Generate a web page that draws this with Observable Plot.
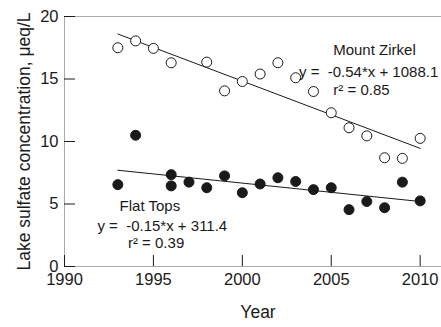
<!DOCTYPE html>
<html>
<head>
<meta charset="utf-8">
<script src="https://cdn.jsdelivr.net/npm/d3@7"></script>
<script src="https://cdn.jsdelivr.net/npm/@observablehq/plot@0.6"></script>
<style>
  html, body { margin: 0; padding: 0; background: #fff; }
  svg { display: block; }
</style>
</head>
<body>
<div id="chart"></div>
<script>
const zirkelYears  = [1993, 1994, 1995, 1996, 1998, 1999, 2000, 2001, 2002, 2003, 2004, 2005, 2006, 2007, 2008, 2009, 2010];
const zirkelValues = [17.5, 18.05, 17.45, 16.3, 16.35, 14.05, 14.8, 15.4, 16.3, 15.1, 14.0, 12.3, 11.1, 10.45, 8.7, 8.65, 10.25];
const flatYears  = [1993, 1994, 1996, 1996, 1997, 1998, 1999, 2000, 2001, 2002, 2003, 2004, 2005, 2006, 2007, 2008, 2009, 2010];
const flatValues = [6.55, 10.5, 7.35, 6.45, 6.75, 6.3, 7.25, 5.9, 6.6, 7.1, 6.8, 6.15, 6.3, 4.55, 5.2, 4.7, 6.75, 5.25];
const fitYears  = [1993, 2010];
const zirkelFit = [18.6, 9.45];
const flatFit   = [7.7, 5.2];
const xTicks = [1990, 1995, 2000, 2005, 2010];
const yTicks = [0, 5, 10, 15, 20];

const zirkel = zirkelYears.map((x, i) => ({x, y: zirkelValues[i]}));
const flat = flatYears.map((x, i) => ({x, y: flatValues[i]}));
const zFit = fitYears.map((x, i) => ({x, y: zirkelFit[i]}));
const fFit = fitYears.map((x, i) => ({x, y: flatFit[i]}));

const ink = "#1a1a1a";
const frameColor = "#aaaaaa";
const annSize = 15;

const chart = Plot.plot({
  width: 441,
  height: 327,
  marginLeft: 64,
  marginRight: 0,
  marginTop: 16,
  marginBottom: 61,
  style: {fontFamily: "'Liberation Sans', Arial, sans-serif", fontSize: "16px", color: ink, background: "#fff"},
  x: {domain: [1990, 2011.2]},
  y: {domain: [0, 20]},
  marks: [
    Plot.frame({anchor: "top", stroke: frameColor}),
    Plot.frame({anchor: "left", stroke: frameColor}),
    Plot.frame({anchor: "bottom", stroke: frameColor}),
    // tick labels
    Plot.axisY(yTicks, {tickSize: 0, tickPadding: 6, fontSize: 16.5, fill: ink, label: null, tickFormat: d => String(d)}),
    Plot.axisX(xTicks, {tickSize: 0, tickPadding: 7, fontSize: 16.5, fill: ink, label: null, tickFormat: d => String(d)}),
    // inward tick lines
    Plot.axisY(yTicks, {tickSize: 11, dx: 11, text: null, stroke: ink, label: null}),
    Plot.axisX(xTicks, {tickSize: 11, dy: -11, text: null, stroke: ink, label: null}),
    // axis titles
    Plot.text(["Lake sulfate concentration, μeq/L"], {frameAnchor: "left", textAnchor: "middle", lineAnchor: "middle", dx: -40, rotate: -90, fontSize: 17.5, fill: ink}),
    Plot.text(["Year"], {frameAnchor: "bottom", dy: 51, dx: 5, fontSize: 17.5, fill: ink}),
    // fit lines
    Plot.line(zFit, {x: "x", y: "y", stroke: ink, strokeWidth: 1}),
    Plot.line(fFit, {x: "x", y: "y", stroke: ink, strokeWidth: 1}),
    // points
    Plot.dot(zirkel, {x: "x", y: "y", r: 5, stroke: ink, strokeWidth: 1, fill: "#fff"}),
    Plot.dot(flat, {x: "x", y: "y", r: 5, stroke: ink, strokeWidth: 1, fill: ink}),
    // annotations
    Plot.text(["Mount Zirkel"], {x: 2007.43, y: 17.3, fontSize: annSize, fill: ink}),
    Plot.text(["y =  -0.54*x + 1088.1"], {x: 2007.1, y: 15.55, fontSize: annSize, fill: ink}),
    Plot.text(["r² = 0.85"], {x: 2006.7, y: 14.1, fontSize: annSize, fill: ink}),
    Plot.text(["Flat Tops"], {x: 1994.8, y: 4.83, fontSize: annSize, fill: ink}),
    Plot.text(["y =  -0.15*x + 311.4"], {x: 1995.5, y: 3.2, fontSize: annSize, fill: ink}),
    Plot.text(["r² = 0.39"], {x: 1995.15, y: 1.84, fontSize: annSize, fill: ink})
  ]
});
document.getElementById("chart").appendChild(chart);
</script>
</body>
</html>
